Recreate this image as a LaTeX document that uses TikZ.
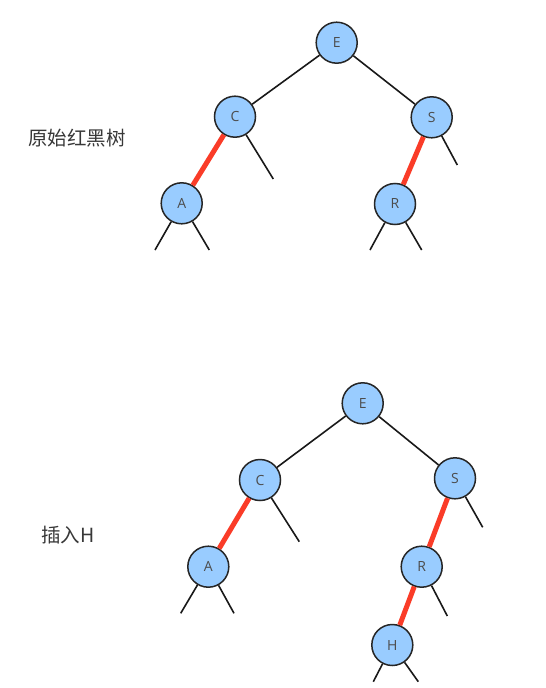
\documentclass[tikz,border=0pt]{standalone}
\usepackage{fontspec}
\setmainfont{Open Sans}
\newfontfamily\cjk{Noto Sans CJK SC}
\begin{document}
\begin{tikzpicture}[x=1pt,y=-1pt,
  nd/.style={circle,draw=black!85,line width=1.5pt,fill=nodeblue,minimum size=41pt,inner sep=0pt,font=\fontsize{14}{16}\selectfont,text=black!70},
  blk/.style={line width=1.6pt,draw=black!90},
  redl/.style={line width=5pt,draw=redlink},
  lbl/.style={font=\cjk\fontsize{19.5}{22}\selectfont,text=black!78,inner sep=0pt}]
\definecolor{nodeblue}{RGB}{153,204,255}
\definecolor{redlink}{RGB}{250,60,40}
\useasboundingbox (0,0) rectangle (546,688);
\fill[white] (0,0) rectangle (546,688);
% top tree
\node[lbl] (t1) at (77,138) {原始红黑树};
\coordinate (cc1) at (273.3,179);
\coordinate (sc1) at (457.3,165);
\coordinate (al1) at (155,250);
\coordinate (ar1) at (209.3,250);
\coordinate (rl1) at (370,250);
\coordinate (rr1) at (421.7,250);
\node[nd] (E1) at (336.7,42.7) {E};
\node[nd] (C1) at (235,116.7) {C};
\node[nd] (S1) at (431.7,117.3) {S};
\node[nd] (A1) at (181.7,203.3) {A};
\node[nd] (R1) at (395,204) {R};
\draw[blk] (E1) -- (C1);
\draw[blk] (E1) -- (S1);
\draw[redl] (C1) -- (A1);
\draw[redl] (S1) -- (R1);
\draw[blk] (C1) -- (cc1);
\draw[blk] (S1) -- (sc1);
\draw[blk] (A1) -- (al1);
\draw[blk] (A1) -- (ar1);
\draw[blk] (R1) -- (rl1);
\draw[blk] (R1) -- (rr1);
% bottom tree
\node[lbl] (t2) at (68,535) {插入H};
\coordinate (cc2) at (299.3,541.7);
\coordinate (sc2) at (482.7,527.3);
\coordinate (al2) at (180.7,613.3);
\coordinate (ar2) at (234,613.3);
\coordinate (rr2) at (447.3,616);
\coordinate (hl2) at (373.3,681.7);
\coordinate (hr2) at (418.3,681.7);
\node[nd] (E2) at (362.7,403.3) {E};
\node[nd] (C2) at (260,480) {C};
\node[nd] (S2) at (455,478.3) {S};
\node[nd] (A2) at (208.3,566.7) {A};
\node[nd] (R2) at (421.7,566.7) {R};
\node[nd] (H2) at (392.3,645) {H};
\draw[blk] (E2) -- (C2);
\draw[blk] (E2) -- (S2);
\draw[redl] (C2) -- (A2);
\draw[redl] (S2) -- (R2);
\draw[redl] (R2) -- (H2);
\draw[blk] (C2) -- (cc2);
\draw[blk] (S2) -- (sc2);
\draw[blk] (A2) -- (al2);
\draw[blk] (A2) -- (ar2);
\draw[blk] (R2) -- (rr2);
\draw[blk] (H2) -- (hl2);
\draw[blk] (H2) -- (hr2);
\end{tikzpicture}
\end{document}
